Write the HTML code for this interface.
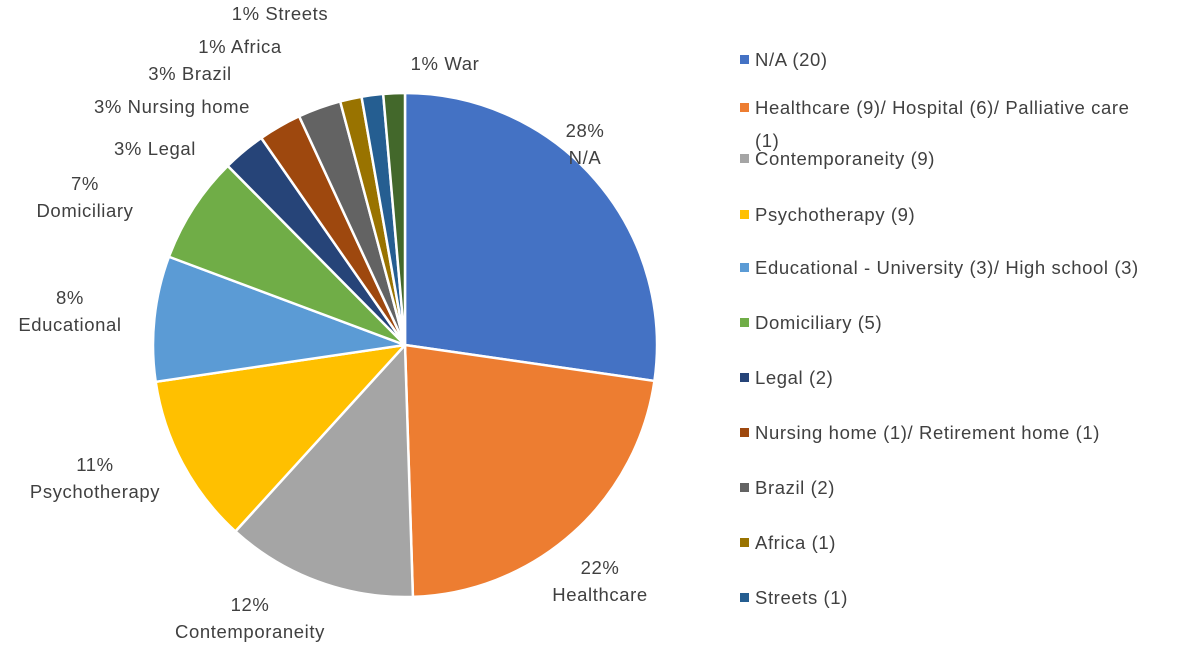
<!DOCTYPE html>
<html><head><meta charset="utf-8"><style>
body{margin:0;background:#fff;}
svg{display:block;font-family:"Liberation Sans",sans-serif;}
text{fill:#404040;font-size:18.5px;letter-spacing:0.6px;}
</style></head><body>
<svg id="s" width="1200" height="653" viewBox="0 0 1200 653">
<g id="pie"></g>
<g text-anchor="middle">
<text x="585" y="137">28%</text><text x="585" y="164">N/A</text>
<text x="600" y="574">22%</text><text x="600" y="601">Healthcare</text>
<text x="250" y="611">12%</text><text x="250" y="638">Contemporaneity</text>
<text x="95" y="471">11%</text><text x="95" y="498">Psychotherapy</text>
<text x="70" y="304">8%</text><text x="70" y="331">Educational</text>
<text x="85" y="190">7%</text><text x="85" y="217">Domiciliary</text>
<text x="155" y="155">3% Legal</text>
<text x="172" y="113">3% Nursing home</text>
<text x="190" y="80">3% Brazil</text>
<text x="240" y="53">1% Africa</text>
<text x="280" y="20">1% Streets</text>
<text x="445" y="70">1% War</text>
</g>
<g id="leg"></g>
</svg>
<script>
var ends=[98.2,178.2,222.3,261.6,290.5,315.3];
var rem=[2,2,2,1,1,1],st=315.3,u=(360-st)/9;
for(var i=0;i<rem.length;i++){st+=rem[i]*u;ends.push(st);}
var c=["#4472C4","#ED7D31","#A5A5A5","#FFC000","#5B9BD5","#70AD47","#264478","#9E480E","#636363","#997300","#255E91","#43682B"];
var cx=405,cy=345,r=252,a=0,h="";
for(var i=0;i<ends.length;i++){var b=ends[i]*Math.PI/180;
var x1=cx+r*Math.sin(a),y1=cy-r*Math.cos(a),x2=cx+r*Math.sin(b),y2=cy-r*Math.cos(b);
h+='<path d="M'+cx+','+cy+'L'+x1+','+y1+'A'+r+','+r+' 0 '+(b-a>Math.PI?1:0)+' 1 '+x2+','+y2+'Z" fill="'+c[i]+'" stroke="#fff" stroke-width="2.5" stroke-linejoin="round"/>';a=b;}
document.getElementById("pie").innerHTML=h;
var L=["N/A (20)","Healthcare (9)/ Hospital (6)/ Palliative care","Contemporaneity (9)","Psychotherapy (9)","Educational - University (3)/ High school (3)","Domiciliary (5)","Legal (2)","Nursing home (1)/ Retirement home (1)","Brazil (2)","Africa (1)","Streets (1)"];
var Y=[65,113,164,220,273,328,383,438,493,548,603],g="";
for(var i=0;i<L.length;i++){g+='<rect x="740" y="'+(Y[i]-10)+'" width="9" height="9" fill="'+c[i]+'"/><text x="755" y="'+(Y[i]+1)+'">'+L[i]+'</text>';}
g+='<text x="755" y="147">(1)</text>';
document.getElementById("leg").innerHTML=g;
</script>
</body></html>
